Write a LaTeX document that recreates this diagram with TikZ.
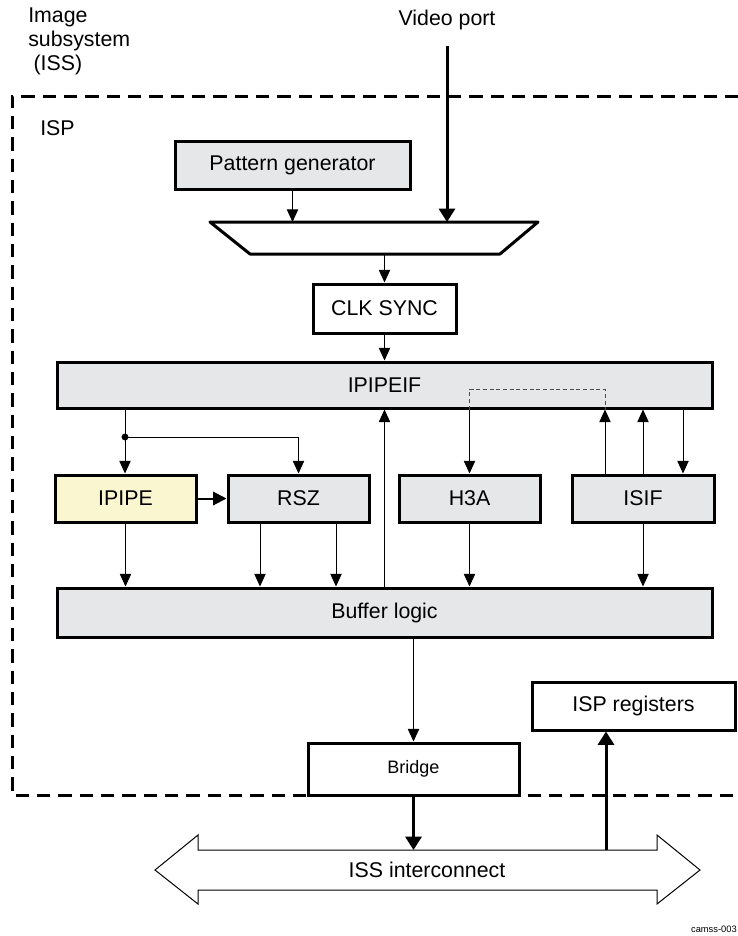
\documentclass[tikz,border=0pt]{standalone}
\usepackage{fontspec}
\setmainfont{Liberation Sans}
\usepackage{xcolor}
\usetikzlibrary{arrows.meta}
\usetikzlibrary{positioning, calc}

\definecolor{blockgray}{RGB}{230,231,232}
\definecolor{pipeyellow}{RGB}{250,246,208}

\tikzset{
  lbl/.style={font=\fontsize{16}{18}\selectfont, inner sep=0pt},
  block/.style 2 args={draw, line width=2.25pt, fill=blockgray, inner sep=0pt,
    minimum width=#1*0.75pt, minimum height=#2*0.75pt, font=\fontsize{16}{18}\selectfont},
  plainblock/.style 2 args={block={#1}{#2}, fill=white},
  flow/.style={line width=0.75pt, -{Triangle[length=9.5pt,width=8.5pt]}},
  bus/.style={line width=2.25pt, -{Triangle[length=10pt,width=12pt]}},
  frame/.style={line width=2.25pt, dash pattern=on 10pt off 6pt},
}

\begin{document}
\begin{tikzpicture}[x=0.75pt, y=-0.75pt]
        \useasboundingbox (0,0) rectangle (738,936);

        % ISP frame
        \draw[frame] (760,96) -| (12,795) -- (760,795);

        \node[lbl, anchor=north west, align=left] (iss) at (28,8) {Image\\subsystem\\\hspace*{4pt}(ISS)};
        \node[lbl] (vport) at (447,20) {Video port};
        \node[lbl, anchor=west] (isp) at (40,128) {ISP};

        \node[block={235}{48}] (patgen) at (292.5,165) {Pattern generator};

        % input mux
        \draw[line width=2.25pt, fill=white, line join=round]
            (210,222) coordinate (muxtl) -- (538,222) -- (500,254) -- (250,254) -- cycle;
        \coordinate (muxout) at (384.5,254);

        \node[plainblock={143}{49}] (clk) at (384.5,308.5) {CLK SYNC};
        \node[block={655}{46}] (ipipeif) at (384.5,385) {IPIPEIF};
        \node[block={141}{47}, fill=pipeyellow] (ipipe) at (125.5,498.5) {IPIPE};
        \node[block={141}{47}] (rsz) at (298.5,498.5) {RSZ};
        \node[block={141}{47}] (h3a) at (469.5,498.5) {H3A};
        \node[block={142}{47}] (isif) at (643,498.5) {ISIF};
        \node[block={655}{49}] (buf) at (384.5,612.5) {Buffer logic};
        \node[plainblock={211}{52}, font=\fontsize{13.5}{16}\selectfont] (bridge) at (413.5,769) {Bridge};
        \node[plainblock={203}{48}] (ispreg) at (633.5,706) {ISP registers};

        % inputs
        \draw[bus] ([yshift=-12pt]vport.south) -- (vport.south |- muxtl);
        \draw[flow] (patgen.south) -- (patgen.south |- muxtl);
        \draw[flow] (muxout) -- (clk.north);
        \draw[flow] (clk) -- (ipipeif);

        % IPIPEIF to the pipes
        \coordinate (tap) at (125,437);
        \draw[line width=0.75pt] (ipipeif.south -| tap) -- (tap);
        \fill (tap) circle[radius=2.6pt];
        \draw[flow] (tap) -- (ipipe.north -| tap);
        \draw[flow] (tap) -| (rsz.north);
        \draw[line width=1.5pt, -{Triangle[length=10pt,width=10pt]}] (ipipe) -- (rsz);
        \draw[flow] (ipipeif.south -| h3a) -- (h3a);
        \draw[densely dashed, line width=0.75pt, black!70]
            (ipipeif.south -| h3a) -- ++(0,-20) -| (ipipeif.south -| 605,0);

        \coordinate (sA) at (605,0);
        \coordinate (sC) at (683,0);
        \draw[flow] (isif.north -| sA) -- (ipipeif.south -| sA);
        \draw[flow] (isif) -- (ipipeif.south -| isif);
        \draw[flow] (ipipeif.south -| sC) -- (isif.north -| sC);

        % into buffer logic
        \coordinate (rA) at (260,0);
        \coordinate (rB) at (336,0);
        \draw[flow] (ipipe) -- (buf.north -| ipipe);
        \draw[flow] (rsz.south -| rA) -- (buf.north -| rA);
        \draw[flow] (rsz.south -| rB) -- (buf.north -| rB);
        \draw[flow] (h3a) -- (buf.north -| h3a);
        \draw[flow] (isif) -- (buf.north -| isif);
        \draw[flow] (buf.north -| clk) -- (ipipeif.south -| clk);
        \draw[flow] (buf.south -| bridge) -- (bridge);

        % ISS interconnect
        \draw[line width=0.75pt, fill=white]
            (155,870) -- (198,835) -- (198,850) -- (657,850) -- (657,835) -- (700,870)
            -- (657,904) -- (657,890) -- (198,890) -- (198,904) -- cycle;
        \node[lbl] (icon) at (427,870) {ISS interconnect};
        \coordinate (regin) at (606,850);
        \draw[bus] (bridge.south) -- (bridge.south |- regin);
        \draw[bus] (regin) -- (ispreg.south -| regin);

        \node[font=\fontsize{7}{8}\selectfont, anchor=east, inner sep=0pt] (tag) at (737,929) {camss-003};
\end{tikzpicture}
\end{document}
